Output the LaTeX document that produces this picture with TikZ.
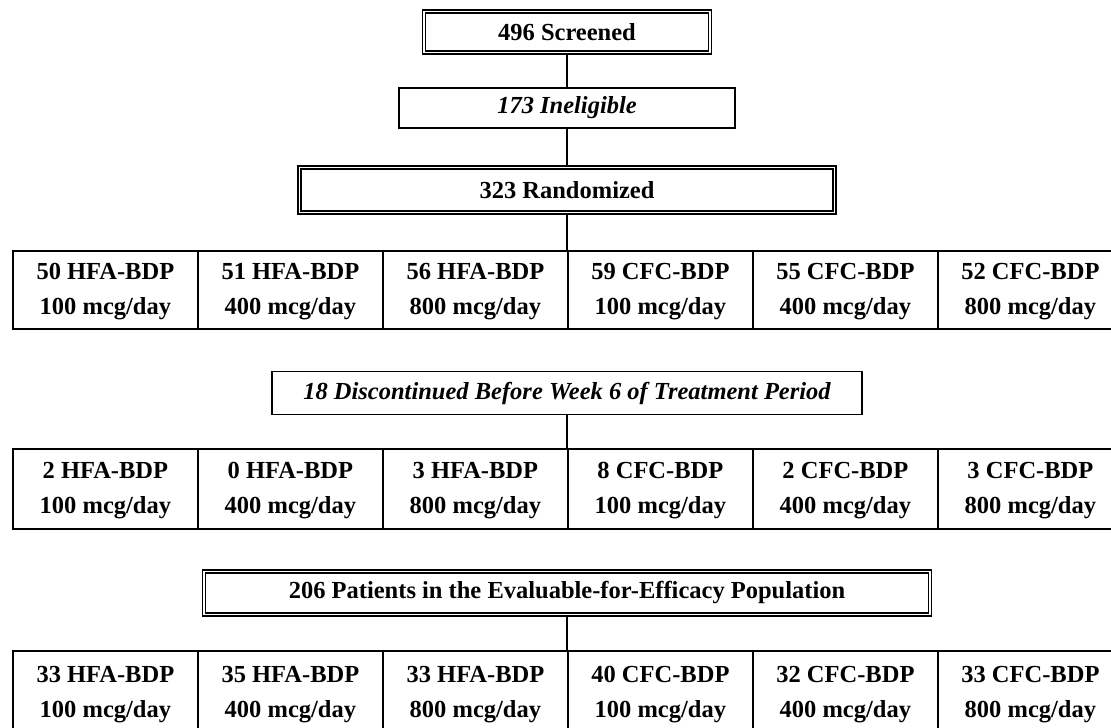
\documentclass[tikz,border=0pt]{standalone}
\usepackage{fontspec}
\setmainfont{Liberation Serif}
\usetikzlibrary{positioning}

\newcommand{\armtext}[2]{\strut#1\\\strut#2 mcg/day}

\tikzset{
  cell/.style={draw, line width=1.8pt, rectangle, align=center, minimum width=185pt,
    minimum height=78pt, anchor=north west, font=\fontsize{24.5}{35}\selectfont\bfseries},
  headbox/.style={draw, line width=1.8pt, rectangle, align=center,
    font=\fontsize{24.5}{28}\selectfont\bfseries},
  dblbox/.style={headbox, double, line width=1.3pt, double distance=1.6pt},
  link/.style={line width=2pt}
}

\begin{document}
\begin{tikzpicture}[x=1pt, y=-1pt]
	\useasboundingbox (0,0) rectangle (1111,728);
	% top of the flow
	\node[dblbox, minimum width=286pt, minimum height=41pt] (scr) at (567,32) {496 Screened};
	\node[headbox, minimum width=336pt, minimum height=40pt, font=\fontsize{24.5}{28}\selectfont\bfseries\itshape] (inel) at (567,108) {173 Ineligible};
	\node[dblbox, minimum width=535pt, minimum height=45pt] (rand) at (567,190) {323 Randomized};
	\draw[link] (scr) -- (inel);
	\draw[link] (inel) -- (rand);
	% randomized arms
	\foreach \n/\d [count=\i from 0] in {50 HFA-BDP/100, 51 HFA-BDP/400, 56 HFA-BDP/800,
	    59 CFC-BDP/100, 55 CFC-BDP/400, 52 CFC-BDP/800} {
		\node[cell] (a\i) at (12+185*\i,250) {\armtext{\n}{\d}};
	}
	\draw[link] (rand.south) -- (rand.south |- a2.north);
	% discontinued
	\node[headbox, minimum width=590pt, minimum height=43pt, font=\fontsize{24.5}{28}\selectfont\bfseries\itshape] (disc) at (567,393) {18 Discontinued Before Week 6 of Treatment Period};
	\foreach \n/\d [count=\i from 0] in {2 HFA-BDP/100, 0 HFA-BDP/400, 3 HFA-BDP/800,
	    8 CFC-BDP/100, 2 CFC-BDP/400, 3 CFC-BDP/800} {
		\node[cell, minimum height=80pt] (b\i) at (12+185*\i,448) {\armtext{\n}{\d}};
	}
	\draw[link] (disc.south) -- (disc.south |- b2.north);
	% evaluable population
	\node[dblbox, minimum width=726pt, minimum height=43pt] (pop) at (567,593) {206 Patients in the Evaluable-for-Efficacy Population};
	\foreach \n/\d [count=\i from 0] in {33 HFA-BDP/100, 35 HFA-BDP/400, 33 HFA-BDP/800,
	    40 CFC-BDP/100, 32 CFC-BDP/400, 33 CFC-BDP/800} {
		\node[cell, minimum height=84pt] (c\i) at (12+185*\i,650) {\armtext{\n}{\d}};
	}
	\draw[link] (pop.south) -- (pop.south |- c2.north);
\end{tikzpicture}
\end{document}
